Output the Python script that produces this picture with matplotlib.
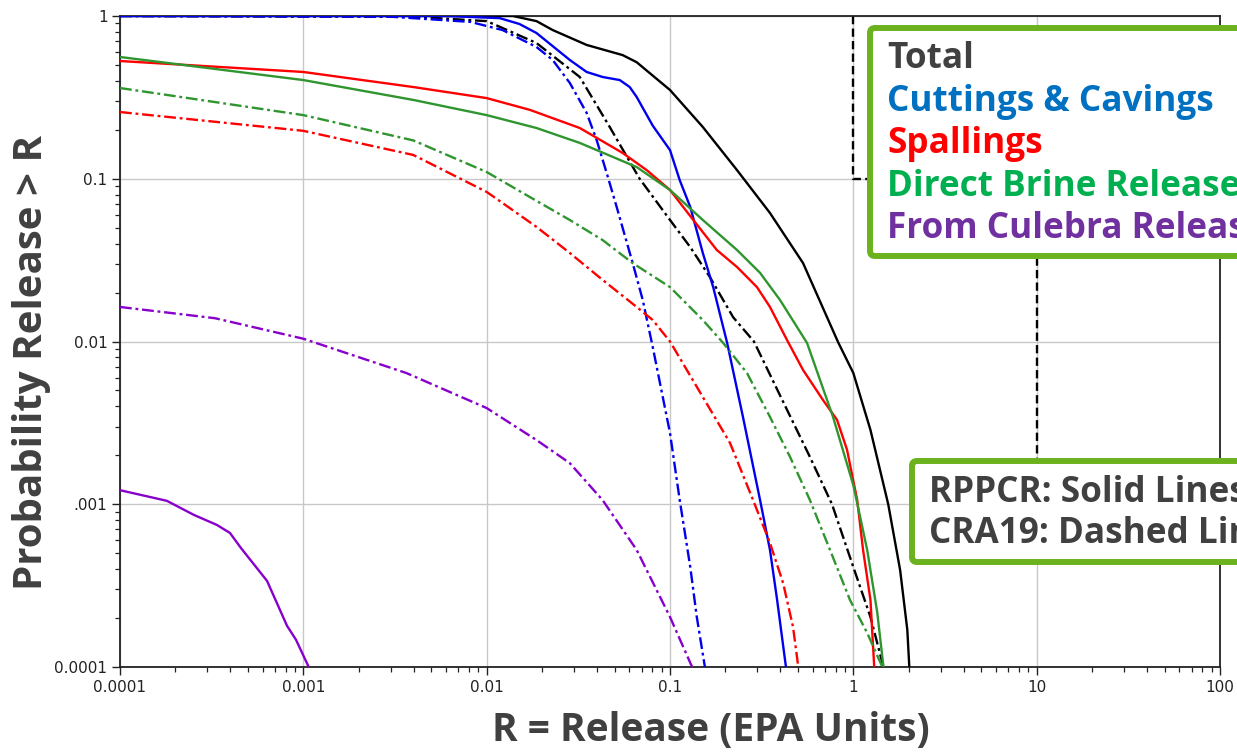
import matplotlib
matplotlib.use("Agg")
import matplotlib.pyplot as plt
from matplotlib.patches import FancyBboxPatch
from matplotlib.transforms import IdentityTransform

# --- data (R in EPA units, probability of exceeding R) ---
total_rppcr_r = [1e-4, 0.0139, 0.0187, 0.0229, 0.0351, 0.0552, 0.0658, 0.1, 0.151, 0.232,
                 0.351, 0.532, 0.826, 1.0, 1.24, 1.55, 1.80, 1.97, 2.02]
total_rppcr_p = [1.0, 1.0, 0.93, 0.82, 0.664, 0.575, 0.52, 0.351, 0.208, 0.113,
                 0.0616, 0.0303, 0.0099, 0.0064, 0.00286, 0.001, 0.000394, 0.000169, 0.0001]

total_cra19_r = [1e-4, 0.004, 0.01, 0.0122, 0.0187, 0.0322, 0.0469, 0.0683, 0.1, 0.129,
                 0.165, 0.221, 0.287, 0.435, 0.58, 0.765, 1.0, 1.24, 1.46]
total_cra19_p = [1.0, 0.99, 0.93, 0.844, 0.682, 0.422, 0.208, 0.1, 0.0558, 0.038,
                 0.0249, 0.0141, 0.01, 0.0038, 0.00195, 0.001, 0.000411, 0.000203, 0.0001]

cc_rppcr_r = [1e-4, 0.006, 0.0118, 0.0151, 0.0187, 0.0284, 0.0351, 0.0429, 0.0532, 0.0603,
              0.0658, 0.0805, 0.1, 0.113, 0.129, 0.151, 0.172, 0.205, 0.25, 0.31, 0.351,
              0.384, 0.429]
cc_rppcr_p = [1.0, 1.0, 0.97, 0.893, 0.786, 0.537, 0.453, 0.422, 0.404, 0.366,
              0.318, 0.212, 0.15, 0.098, 0.067, 0.035, 0.0216, 0.0098, 0.00344, 0.00106,
              0.000524, 0.000258, 0.0001]

cc_cra19_r = [1e-4, 0.003, 0.00815, 0.0122, 0.0187, 0.0229, 0.0284, 0.0351, 0.0398, 0.0452,
              0.0512, 0.0626, 0.071, 0.0805, 0.1, 0.113, 0.129, 0.140, 0.155]
cc_cra19_p = [1.0, 0.99, 0.92, 0.82, 0.645, 0.537, 0.388, 0.254, 0.173, 0.108,
              0.067, 0.0303, 0.018, 0.00925, 0.00274, 0.00106, 0.000411, 0.000203, 0.0001]

spall_rppcr_r = [1e-4, 1e-3, 0.00398, 0.01, 0.0172, 0.0322, 0.0552, 0.0746, 0.1, 0.134,
                 0.180, 0.232, 0.298, 0.351, 0.435, 0.532, 0.683, 0.815, 0.924, 1.05,
                 1.13, 1.24, 1.30]
spall_rppcr_p = [0.529, 0.453, 0.366, 0.313, 0.265, 0.205, 0.144, 0.113, 0.0853, 0.0558,
                 0.0365, 0.0287, 0.0216, 0.0163, 0.0102, 0.00668, 0.00437, 0.0033, 0.00216,
                 0.00106, 0.000524, 0.000258, 0.0001]

spall_cra19_r = [1e-4, 1e-3, 0.00398, 0.01, 0.0122, 0.0187, 0.0284, 0.0429, 0.0658, 0.0805,
                 0.1, 0.151, 0.2125, 0.284, 0.351, 0.414, 0.469, 0.501]
spall_cra19_p = [0.257, 0.197, 0.14, 0.083, 0.071, 0.0506, 0.035, 0.0239, 0.0163, 0.01355,
                 0.01, 0.00456, 0.00238, 0.00106, 0.000578, 0.000328, 0.000176, 0.0001]

dbr_rppcr_r = [1e-4, 1e-3, 0.00398, 0.01, 0.0187, 0.0322, 0.0658, 0.1, 0.151, 0.232,
               0.31, 0.398, 0.559, 0.775, 1.0, 1.19, 1.35, 1.46]
dbr_rppcr_p = [0.56, 0.404, 0.305, 0.246, 0.205, 0.166, 0.118, 0.0853, 0.0558, 0.0365,
               0.0264, 0.018, 0.0098, 0.00344, 0.00131, 0.000524, 0.000217, 0.0001]

dbr_cra19_r = [1e-4, 1e-3, 0.00398, 0.01, 0.0172, 0.0284, 0.0429, 0.0626, 0.1, 0.151,
               0.195, 0.263, 0.351, 0.452, 0.58, 0.746, 0.959, 1.19, 1.44]
dbr_cra19_p = [0.361, 0.246, 0.172, 0.11, 0.0772, 0.0558, 0.042, 0.0303, 0.0216, 0.01355,
               0.0098, 0.0064, 0.00344, 0.00195, 0.00106, 0.000524, 0.000258, 0.000162, 0.0001]

cul_rppcr_r = [1e-4, 0.00018, 0.000253, 0.000338, 0.000398, 0.000457, 0.000634, 0.000815,
               0.000912, 0.00107]
cul_rppcr_p = [0.00122, 0.00105, 0.00086, 0.000746, 0.000666, 0.000538, 0.000338, 0.000179,
               0.000147, 0.0001]

cul_cra19_r = [1e-4, 0.00033, 0.001, 0.00365, 0.01, 0.0187, 0.0284, 0.0429, 0.0658, 0.1, 0.132]
cul_cra19_p = [0.0163, 0.0139, 0.0104, 0.0064, 0.0039, 0.00248, 0.00179, 0.00106, 0.000524,
               0.000203, 0.0001]

# EPA release limits (step line)
limit_r = [1, 1, 10, 10, 100]
limit_p = [1, 0.1, 0.1, 0.001, 0.001]

x_ticks = [1e-4, 1e-3, 1e-2, 1e-1, 1, 10, 100]
x_tick_labels = ["0.0001", "0.001", "0.01", "0.1", "1", "10", "100"]
y_ticks = [1e-4, 1e-3, 1e-2, 1e-1, 1]
y_tick_labels = ["0.0001", ".001", "0.01", "0.1", "1"]

legend_items = [("Total", "#404040"),
                ("Cuttings & Cavings", "#0070c0"),
                ("Spallings", "#ff0000"),
                ("Direct Brine Release", "#00b050"),
                ("From Culebra Release", "#7030a0")]
note_lines = ["RPPCR: Solid Lines", "CRA19: Dashed Lines"]

W, H = 1237, 753
BOX_GREEN = "#6cb21f"
TEXT_GRAY = "#404040"
LABEL_FONT = "Open Sans"

fig = plt.figure(figsize=(W / 100, H / 100), dpi=100)
ax = fig.add_axes([120 / W, 1 - 667 / H, 1100 / W, 651 / H])

dash = (5, 1.6, 1.2, 1.6)
series = [
    (total_rppcr_r, total_rppcr_p, "black", "-"),
    (total_cra19_r, total_cra19_p, "black", "-."),
    (cc_rppcr_r, cc_rppcr_p, "#0000ee", "-"),
    (cc_cra19_r, cc_cra19_p, "#0000ee", "-."),
    (spall_rppcr_r, spall_rppcr_p, "#ff0000", "-"),
    (spall_cra19_r, spall_cra19_p, "#ff0000", "-."),
    (dbr_rppcr_r, dbr_rppcr_p, "#2f952f", "-"),
    (dbr_cra19_r, dbr_cra19_p, "#2f952f", "-."),
    (cul_rppcr_r, cul_rppcr_p, "#8800cc", "-"),
    (cul_cra19_r, cul_cra19_p, "#8800cc", "-."),
]
for r, p, color, style in series:
    line, = ax.plot(r, p, color=color, lw=1.7, zorder=3, solid_joinstyle="round")
    if style == "-.":
        line.set_dashes(dash)

ax.plot(limit_r, limit_p, color="black", lw=1.7, dashes=(3.5, 1.8), zorder=2)

ax.set_xscale("log")
ax.set_yscale("log")
ax.set_xlim(1e-4, 100)
ax.set_ylim(1e-4, 1)
ax.set_xticks(x_ticks)
ax.set_xticklabels(x_tick_labels)
ax.set_yticks(y_ticks)
ax.set_yticklabels(y_tick_labels)
ax.tick_params(which="major", direction="out", length=6, width=1, labelsize=11,
               colors="#222222", pad=3)
ax.tick_params(which="minor", direction="out", length=3.5, width=0.9, colors="#222222")
ax.grid(True, which="major", color="#c8c8c8", lw=1)
for s in ax.spines.values():
    s.set_linewidth(1.3)
    s.set_color("#222222")

fig.text(32 / W, 1 - 362 / H, "Probability Release > R", rotation=90, ha="center",
         va="center", fontsize=29, fontweight="bold", family=LABEL_FONT, color=TEXT_GRAY)
fig.text(711 / W, 1 - 731 / H, "R = Release (EPA Units)", ha="center", va="center",
         fontsize=28, fontweight="bold", family=LABEL_FONT, color=TEXT_GRAY)

# legend-like boxes, drawn in pixel coordinates (they run off the right edge)
px = IdentityTransform()
fig.add_artist(FancyBboxPatch((870, H - 256), 500, 228,
                              boxstyle="round,pad=0,rounding_size=5",
                              facecolor="white", edgecolor=BOX_GREEN, lw=4.3,
                              transform=px, zorder=5))
fig.add_artist(FancyBboxPatch((912, H - 562), 500, 101,
                              boxstyle="round,pad=0,rounding_size=5",
                              facecolor="white", edgecolor=BOX_GREEN, lw=4.3,
                              transform=px, zorder=5))

baselines = [68, 110.5, 153, 195.5, 238]
for (txt, col), yb in zip(legend_items, baselines):
    fig.text(887, H - yb, txt, transform=px, ha="left", va="baseline", fontsize=25.3,
             fontweight="bold", family=LABEL_FONT, color=col, zorder=6)
for txt, yb in zip(note_lines, [502, 543]):
    fig.text(929, H - yb, txt, transform=px, ha="left", va="baseline", fontsize=25.3,
             fontweight="bold", family=LABEL_FONT, color=TEXT_GRAY, zorder=6)

fig.savefig("out.png", dpi=100)
